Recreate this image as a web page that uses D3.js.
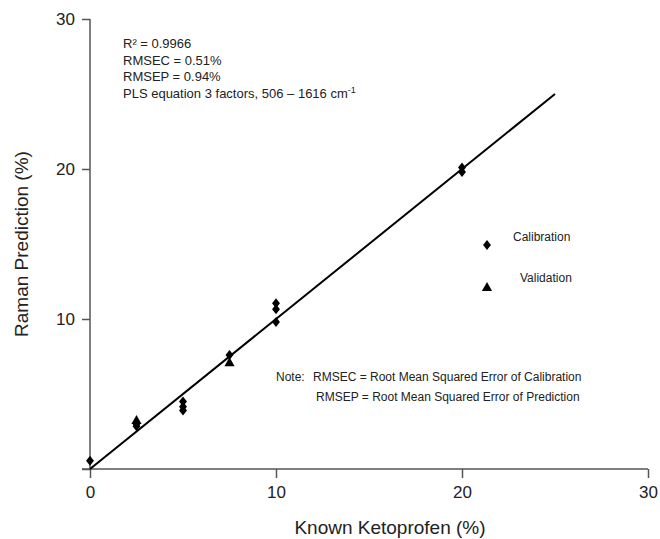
<!DOCTYPE html>
<html>
<head>
<meta charset="utf-8">
<script src="https://cdn.jsdelivr.net/npm/d3@7"></script>
<style>
  html, body { margin: 0; padding: 0; background: #fff; }
  svg { display: block; font-family: "Liberation Sans", Arial, sans-serif; }
</style>
</head>
<body>
<script>
// ---- data ----
const calibX = [0, 2.5, 2.5, 5, 5, 5, 7.5, 10, 10, 10, 20, 20];
const calibY = [0.55, 3.0, 2.85, 4.5, 4.15, 3.9, 7.6, 11.05, 10.65, 9.8, 20.1, 19.8];
const validX = [2.5, 7.5];
const validY = [3.2, 7.05];
const fitX = [0, 25];
const fitY = [0, 25];
const xTicks = [0, 10, 20, 30];
const yTicks = [0, 10, 20, 30];
const yTickLabels = ["", "10", "20", "30"];
const statsLines = ["R\u00B2 = 0.9966", "RMSEC = 0.51%", "RMSEP = 0.94%"];
const plsLine = "PLS equation 3 factors, 506 \u2013 1616 cm";
const legendLabels = ["Calibration", "Validation"];
const noteLines = ["RMSEC = Root Mean Squared Error of Calibration", "RMSEP = Root Mean Squared Error of Prediction"];

const W = 660, H = 539;
const svg = d3.select("body").append("svg").attr("width", W).attr("height", H);

const x = d3.scaleLinear().domain([0, 30]).range([90, 648]);
const y = d3.scaleLinear().domain([0, 30]).range([469, 19]);

const axisColor = "#555";
const textColor = "#222";

// custom diamond
const diamond = {
  draw(ctx, size) {
    const h = Math.sqrt(size) * 0.78, w = h * 0.8;
    ctx.moveTo(0, -h); ctx.lineTo(w, 0); ctx.lineTo(0, h); ctx.lineTo(-w, 0); ctx.closePath();
  }
};
const diaPath = d3.symbol().type(diamond).size(40)();
const triPath = d3.symbol().type(d3.symbolTriangle).size(45)();

// axes
const gx = svg.append("g").attr("transform", `translate(0,${y(0)})`)
  .call(d3.axisBottom(x).tickValues(xTicks).tickSize(9).tickPadding(7.5).tickSizeOuter(0));
const gy = svg.append("g").attr("transform", `translate(${x(0)},0)`)
  .call(d3.axisLeft(y).tickValues(yTicks).tickFormat((d, i) => yTickLabels[i])
    .tickSize(8).tickPadding(7).tickSizeOuter(0));
[gx, gy].forEach(g => {
  g.select(".domain").remove();
  g.selectAll("line").attr("stroke", axisColor).attr("stroke-width", 1.5);
  g.selectAll("text").attr("fill", textColor).style("font-size", "17px")
    .style("font-family", "'Liberation Sans', Arial, sans-serif");
});
svg.append("line").attr("x1", x(0) - 8).attr("x2", x(30)).attr("y1", y(0)).attr("y2", y(0))
  .attr("stroke", axisColor).attr("stroke-width", 1.5);
svg.append("line").attr("x1", x(0)).attr("x2", x(0)).attr("y1", y(30)).attr("y2", y(0))
  .attr("stroke", axisColor).attr("stroke-width", 1.5);

// axis titles
svg.append("text").attr("x", 390).attr("y", 534).attr("text-anchor", "middle")
  .attr("fill", textColor).style("font-size", "19px").text("Known Ketoprofen (%)");
svg.append("text").attr("transform", "translate(28,244) rotate(-90)").attr("text-anchor", "middle")
  .attr("fill", textColor).style("font-size", "19px").text("Raman Prediction (%)");

// fit line
svg.append("path")
  .attr("d", d3.line().x(d => x(d[0])).y(d => y(d[1]))(d3.zip(fitX, fitY)))
  .attr("fill", "none").attr("stroke", "#000").attr("stroke-width", 2);

// points
svg.append("g").selectAll("path").data(d3.zip(calibX, calibY)).join("path")
  .attr("d", diaPath).attr("transform", d => `translate(${x(d[0])},${y(d[1])})`).attr("fill", "#000");
svg.append("g").selectAll("path").data(d3.zip(validX, validY)).join("path")
  .attr("d", triPath).attr("transform", d => `translate(${x(d[0])},${y(d[1])})`).attr("fill", "#000");

// stats text
const st = svg.append("g").attr("fill", textColor).style("font-size", "13px");
statsLines.forEach((t, i) => {
  st.append("text").attr("x", 123).attr("y", 48 + i * 16.5).text(t);
});
const pls = st.append("text").attr("x", 123).attr("y", 48 + 3 * 16.5).text(plsLine);
pls.append("tspan").attr("dy", -5).style("font-size", "9px").text("-1");

// legend
const lg = svg.append("g").attr("fill", textColor).style("font-size", "12px");
lg.append("path").attr("d", diaPath).attr("transform", "translate(487,245)").attr("fill", "#000");
lg.append("path").attr("d", triPath).attr("transform", "translate(487,288)").attr("fill", "#000");
lg.append("text").attr("x", 513).attr("y", 241).text(legendLabels[0]);
lg.append("text").attr("x", 520).attr("y", 282).text(legendLabels[1]);

// note
const nt = svg.append("g").attr("fill", textColor).style("font-size", "12px");
nt.append("text").attr("x", 276).attr("y", 381).text("Note:");
nt.append("text").attr("x", 313).attr("y", 381).text(noteLines[0]);
nt.append("text").attr("x", 316).attr("y", 401).text(noteLines[1]);
</script>
</body>
</html>
